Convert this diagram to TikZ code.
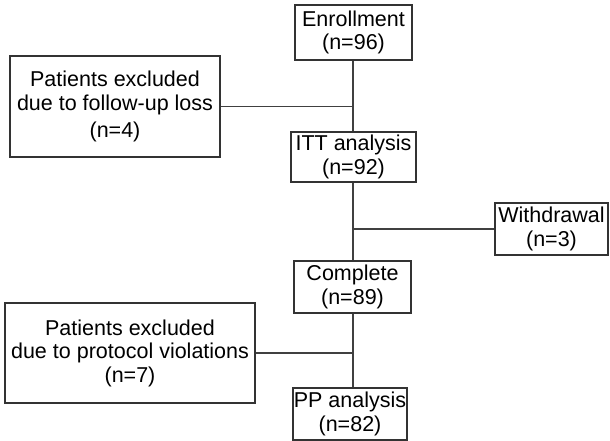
\documentclass[tikz,border=0pt]{standalone}
\usepackage{fontspec}
\setmainfont{Liberation Sans}
\begin{document}
\begin{tikzpicture}[x=1pt,y=-1pt,
  box/.style={draw=black!80, line width=1.4pt, inner sep=0pt, align=center,
    font=\fontsize{21.5}{23.5}\selectfont},
  link/.style={draw=black!75, line width=1.6pt}]
\useasboundingbox (0,0) rectangle (610,441);
\node[box, minimum width=117, minimum height=55] (enroll) at (353.5,32.5) {Enrollment\\(n=96)};
\node[box, minimum width=210, minimum height=101] (follow) at (115,106.5) {Patients excluded\\due to follow-up loss\\[4pt](n=4)};
\node[box, minimum width=125, minimum height=50] (itt) at (353.5,157) {ITT analysis\\(n=92)};
\node[box, minimum width=113, minimum height=52] (withdraw) at (551.5,229) {Withdrawal\\(n=3)};
\node[box, minimum width=117, minimum height=52] (complete) at (352.5,287) {Complete\\(n=89)};
\node[box, minimum width=250, minimum height=100] (protocol) at (130,353) {Patients excluded\\due to protocol violations\\(n=7)};
\node[box, minimum width=114, minimum height=52] (pp) at (350,414) {PP analysis\\(n=82)};
\coordinate (trunk) at (353,0);
\path[link] (trunk |- enroll.south) -- (trunk |- itt.north);
\path[link] (trunk |- itt.south) -- (trunk |- complete.north);
\path[link] (trunk |- complete.south) -- (trunk |- pp.north);
\path[link] (follow.east) -- (follow.east -| trunk);
\path[link] (withdraw.west) -- (withdraw.west -| trunk);
\path[link] (protocol.east) -- (protocol.east -| trunk);
\end{tikzpicture}
\end{document}
